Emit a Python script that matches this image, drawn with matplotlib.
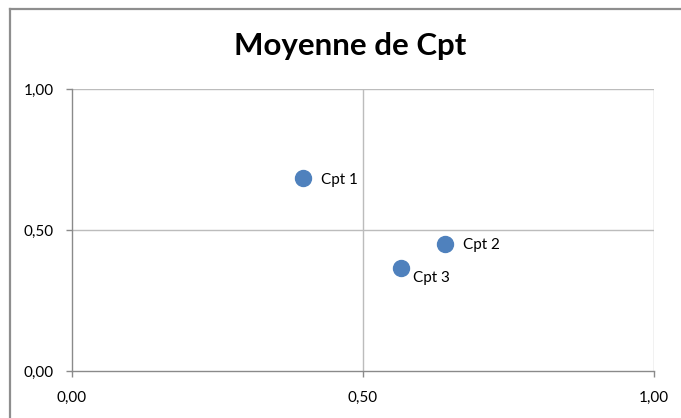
import matplotlib.pyplot as plt
from matplotlib.lines import Line2D

# mean scores per component
labels = ["Cpt 1", "Cpt 2", "Cpt 3"]
x_vals = [0.397, 0.641, 0.565]
y_vals = [0.684, 0.450, 0.365]

tick_vals = [0.0, 0.5, 1.0]
tick_text = ["0,00", "0,50", "1,00"]

plt.rcParams["font.family"] = ["Lato", "DejaVu Sans"]

W, H = 681, 418
fig = plt.figure(figsize=(W / 100, H / 100), dpi=100)
fig.patch.set_facecolor("white")

# chart frame (clipped on the right and bottom)
frame = "#8e8e8e"
fig.add_artist(Line2D([10 / W, 10 / W], [0, 1 - 9 / H], transform=fig.transFigure,
                      color=frame, lw=1.6))
fig.add_artist(Line2D([10 / W, 1], [1 - 9 / H, 1 - 9 / H], transform=fig.transFigure,
                      color=frame, lw=1.6))

ax = fig.add_axes([72 / W, (H - 371) / H, 582 / W, 282 / H])
ax.set_xlim(0, 1)
ax.set_ylim(0, 1)

grid_c = "#bcbcbc"
for v in tick_vals[1:]:
    ax.axvline(v, color=grid_c, lw=1.0, zorder=1)
    ax.axhline(v, color=grid_c, lw=1.0, zorder=1)

for side in ["top", "right"]:
    ax.spines[side].set_visible(False)
for side in ["left", "bottom"]:
    ax.spines[side].set_color("#8a8a8a")
    ax.spines[side].set_linewidth(1.0)

ax.set_xticks(tick_vals)
ax.set_xticklabels(tick_text)
ax.set_yticks(tick_vals)
ax.set_yticklabels(tick_text)
ax.tick_params(direction="out", length=4, width=1.0, color="#8a8a8a",
               labelsize=11, labelcolor="black")
ax.tick_params(axis="y", pad=9)
ax.tick_params(axis="x", pad=10)

ax.plot(x_vals, y_vals, "o", ms=11.5, color="#4f81bd", zorder=3, clip_on=False)

offsets = [(13, -1), (13, -1), (9, -7)]
for lab, xv, yv, off in zip(labels, x_vals, y_vals, offsets):
    ax.annotate(lab, (xv, yv), xytext=off, textcoords="offset points",
                ha="left", va="center", fontsize=11)

fig.text(350 / W, 1 - 46 / H, "Moyenne de Cpt", ha="center", va="center",
         fontsize=22.5, fontweight="bold")

fig.savefig("out.png", dpi=100)
